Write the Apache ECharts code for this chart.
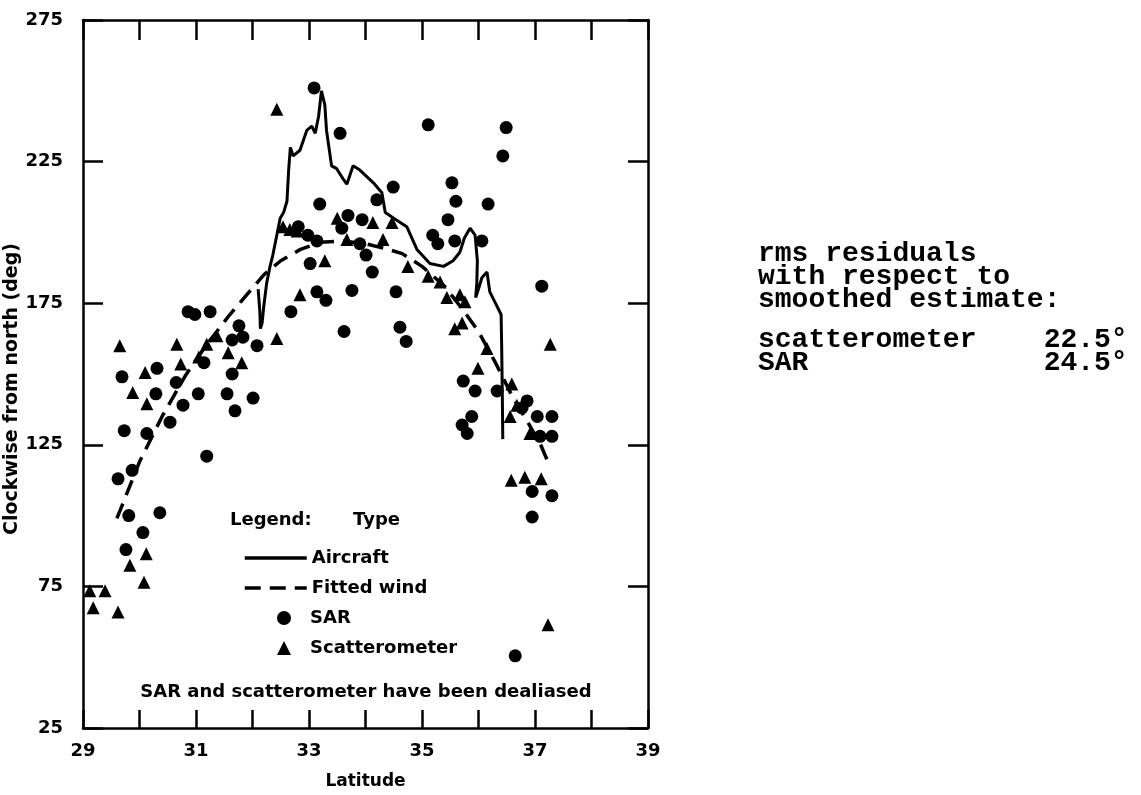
<!DOCTYPE html>
<html>
<head>
<meta charset="utf-8">
<script src="https://cdn.jsdelivr.net/npm/echarts@6/dist/echarts.min.js"></script>
<style>
  html, body { margin: 0; padding: 0; background: #fff; }
  #chart { width: 1141px; height: 795px; }
</style>
</head>
<body>
<div id="chart"></div>
<script>
// tick labels
const xTicks = [29, 31, 33, 35, 37, 39];
const yTicks = [25, 75, 125, 175, 225, 275];

// [latitude, direction deg]
const sarPoints = [
  [29.62, 113], [29.87, 116], [29.69, 149], [29.73, 130], [29.81, 100], [29.76, 88],
  [30.06, 94], [30.36, 101], [30.13, 129], [30.31, 152], [30.29, 143], [30.54, 133],
  [30.77, 139], [30.65, 147], [30.86, 172], [30.98, 171], [31.25, 172], [31.19, 121],
  [31.04, 143], [31.14, 154], [31.64, 162], [31.76, 167], [31.83, 163], [31.64, 150],
  [31.55, 143], [31.69, 137], [32.01, 141.5], [32.08, 160], [32.68, 172], [33.14, 179],
  [33.30, 176], [33.76, 179.5], [33.62, 165], [33.02, 189], [33.09, 251], [33.55, 235],
  [33.19, 210], [32.81, 202], [32.98, 199], [33.14, 197], [33.69, 206], [33.58, 201.5],
  [33.94, 204.5], [33.90, 196], [34.01, 192], [34.12, 186], [34.20, 211.5], [34.49, 216],
  [34.54, 179], [34.61, 166.5], [34.72, 161.5], [35.11, 238], [35.19, 199], [35.28, 196],
  [35.53, 217.5], [35.60, 211], [35.46, 204.5], [35.58, 197], [36.17, 210], [36.06, 197],
  [36.49, 237], [36.43, 227], [37.12, 181], [35.73, 147.5], [35.94, 144], [36.33, 144],
  [36.86, 140.5], [36.77, 138], [35.88, 135], [35.71, 132], [35.80, 129], [37.04, 135],
  [37.30, 135], [37.09, 128], [37.30, 128], [36.95, 108.5], [37.30, 107], [36.95, 99.5],
  [36.65, 50.5]
];

const scatPoints = [
  [29.18, 67.5], [29.12, 73.5], [29.39, 73.5], [29.62, 66], [29.65, 160], [29.88, 143.5],
  [30.10, 150.5], [30.13, 139.5], [29.83, 82.5], [30.12, 86.5], [30.08, 76.5], [30.66, 160.5],
  [30.73, 153.5], [31.05, 156], [31.19, 160.5], [31.37, 163.5], [31.57, 157.5], [31.81, 154],
  [32.43, 162.5], [32.84, 178], [32.43, 243.5], [32.54, 202], [32.66, 201], [32.79, 200.5],
  [33.28, 190], [33.50, 205], [33.67, 197.5], [34.13, 203.5], [34.31, 197.5], [34.47, 203.5],
  [34.75, 188], [35.11, 184.5], [35.32, 182.5], [35.44, 177], [35.67, 178], [35.76, 175.5],
  [35.58, 166], [35.71, 168], [36.15, 159], [35.99, 152], [37.27, 160.5], [36.59, 146.5],
  [36.68, 139], [36.56, 135], [36.91, 129], [36.58, 112.5], [36.82, 113.5], [37.11, 113],
  [37.23, 61.5]
];

const aircraftPath = [
  [32.10, 180], [32.13, 172], [32.14, 166], [32.17, 168], [32.20, 174], [32.25, 182],
  [32.31, 188], [32.36, 192], [32.43, 199], [32.49, 205], [32.55, 207], [32.61, 211],
  [32.64, 222], [32.67, 230], [32.72, 227], [32.84, 229], [32.96, 236], [33.05, 237.5],
  [33.11, 235], [33.17, 241], [33.22, 250], [33.28, 245], [33.31, 236], [33.40, 223.5],
  [33.49, 222.5], [33.60, 219], [33.67, 217], [33.78, 223.5], [33.90, 222], [34.14, 217.5],
  [34.29, 214], [34.35, 207], [34.50, 205], [34.73, 202], [34.91, 194], [35.14, 189],
  [35.38, 188], [35.55, 190], [35.67, 193], [35.75, 198], [35.85, 201.5], [35.94, 199],
  [35.98, 190], [35.97, 182], [35.95, 177], [36.00, 180], [36.06, 184], [36.15, 186],
  [36.20, 179], [36.30, 175], [36.40, 171], [36.41, 160], [36.42, 145], [36.43, 127]
];

const fittedWind = [
  [29.6, 99], [29.8, 109], [30.0, 119], [30.2, 127], [30.4, 135], [30.6, 142], [30.8, 149],
  [31.0, 155], [31.25, 162], [31.6, 171], [31.9, 178], [32.2, 185], [32.5, 190], [32.85, 194],
  [33.2, 196.5], [33.6, 197], [34.0, 196], [34.4, 194], [34.65, 192.5], [35.0, 188],
  [35.4, 181], [35.75, 172], [36.0, 165], [36.3, 154], [36.6, 142], [36.9, 132],
  [37.1, 125], [37.25, 118]
];

const residualHead = ['rms residuals', 'with respect to', 'smoothed estimate:'];
const residualRows = ['scatterometer    22.5°', 'SAR              24.5°'];

const chart = echarts.init(document.getElementById('chart'));

const FONT = 'DejaVu Sans';
const axisLine = { lineStyle: { color: '#000', width: 2.5 } };
const innerTick = (len) => ({ show: true, inside: true, length: len, lineStyle: { color: '#000', width: 2.5 } });
const legendText = { color: '#000', fontFamily: FONT, fontWeight: 'bold', fontSize: 18 };

const option = {
  animation: false,
  backgroundColor: '#fff',
  grid: { left: 83, right: 493, top: 20, bottom: 65, containLabel: false },
  xAxis: [
    {
      type: 'value', min: 29, max: 39, interval: 1, position: 'bottom',
      axisLine: axisLine, axisTick: innerTick(18), splitLine: { show: false },
      axisLabel: {
        color: '#000', fontFamily: FONT, fontWeight: 'bold', fontSize: 18, margin: 14,
        formatter: v => xTicks.includes(v) ? String(v) : ''
      },
      name: 'Latitude', nameLocation: 'middle', nameGap: 45,
      nameTextStyle: { color: '#000', fontFamily: FONT, fontWeight: 'bold', fontSize: 17 }
    },
    {
      type: 'value', min: 29, max: 39, interval: 1, position: 'top',
      axisLine: axisLine, axisTick: innerTick(20), axisLabel: { show: false }, splitLine: { show: false }
    }
  ],
  yAxis: [
    {
      type: 'value', min: 25, max: 275, interval: 50, position: 'left',
      axisLine: axisLine, axisTick: innerTick(20), splitLine: { show: false },
      axisLabel: {
        color: '#000', fontFamily: FONT, fontWeight: 'bold', fontSize: 18, margin: 20,
        formatter: v => yTicks.includes(v) ? String(v) : ''
      },
      name: 'Clockwise from north (deg)', nameLocation: 'middle', nameGap: 54,
      nameTextStyle: { color: '#000', fontFamily: FONT, fontWeight: 'bold', fontSize: 19, padding: [0, 30, 0, 0] }
    },
    {
      type: 'value', min: 25, max: 275, interval: 50, position: 'right',
      axisLine: axisLine, axisTick: innerTick(20), axisLabel: { show: false }, splitLine: { show: false }
    }
  ],
  legend: [
    {
      data: ['Aircraft', 'Fitted wind'], orient: 'vertical', left: 238, top: 544,
      itemWidth: 62, itemHeight: 14, itemGap: 12, selectedMode: false,
      itemStyle: { color: 'rgba(0,0,0,0)', borderWidth: 0 },
      lineStyle: { width: 3.5 },
      textStyle: legendText
    },
    {
      data: ['SAR', 'Scatterometer'], orient: 'vertical', left: 272, top: 604,
      itemWidth: 14, itemHeight: 14, itemGap: 12, selectedMode: false,
      textStyle: Object.assign({ padding: [0, 0, 0, 14] }, legendText)
    }
  ],
  graphic: [
    { type: 'text', x: 230, y: 520, style: { text: 'Legend:', font: 'bold 18px "DejaVu Sans"', fill: '#000', textVerticalAlign: 'middle' } },
    { type: 'text', x: 353, y: 520, style: { text: 'Type', font: 'bold 18px "DejaVu Sans"', fill: '#000', textVerticalAlign: 'middle' } },
    { type: 'text', x: 366, y: 692, style: { text: 'SAR and scatterometer have been dealiased', font: 'bold 18px "DejaVu Sans"', fill: '#000', textAlign: 'center', textVerticalAlign: 'middle' } }
  ].concat(
    residualHead.map((t, i) => ({
      type: 'text', x: 758, y: 254 + i * 23,
      style: { text: t, font: 'bold 28px "Liberation Mono"', fill: '#000', textVerticalAlign: 'middle' }
    })),
    residualRows.map((t, i) => ({
      type: 'text', x: 758, y: 340 + i * 23,
      style: { text: t, font: 'bold 28px "Liberation Mono"', fill: '#000', textVerticalAlign: 'middle' }
    }))
  ),
  series: [
    {
      name: 'Fitted wind', type: 'line', data: fittedWind,
      symbol: 'none', smooth: false,
      lineStyle: { color: '#000', width: 3.5, type: [16, 9] }, itemStyle: { color: '#000' }
    },
    {
      name: 'Aircraft', type: 'line', data: aircraftPath,
      symbol: 'none', smooth: false,
      lineStyle: { color: '#000', width: 3 }, itemStyle: { color: '#000' }
    },
    {
      name: 'SAR', type: 'scatter', data: sarPoints, symbol: 'circle', symbolSize: 13,
      itemStyle: { color: '#000', opacity: 1 }
    },
    {
      name: 'Scatterometer', type: 'scatter', data: scatPoints, symbol: 'triangle', symbolSize: 13,
      itemStyle: { color: '#000', opacity: 1 }
    }
  ]
};

chart.setOption(option);
</script>
</body>
</html>
